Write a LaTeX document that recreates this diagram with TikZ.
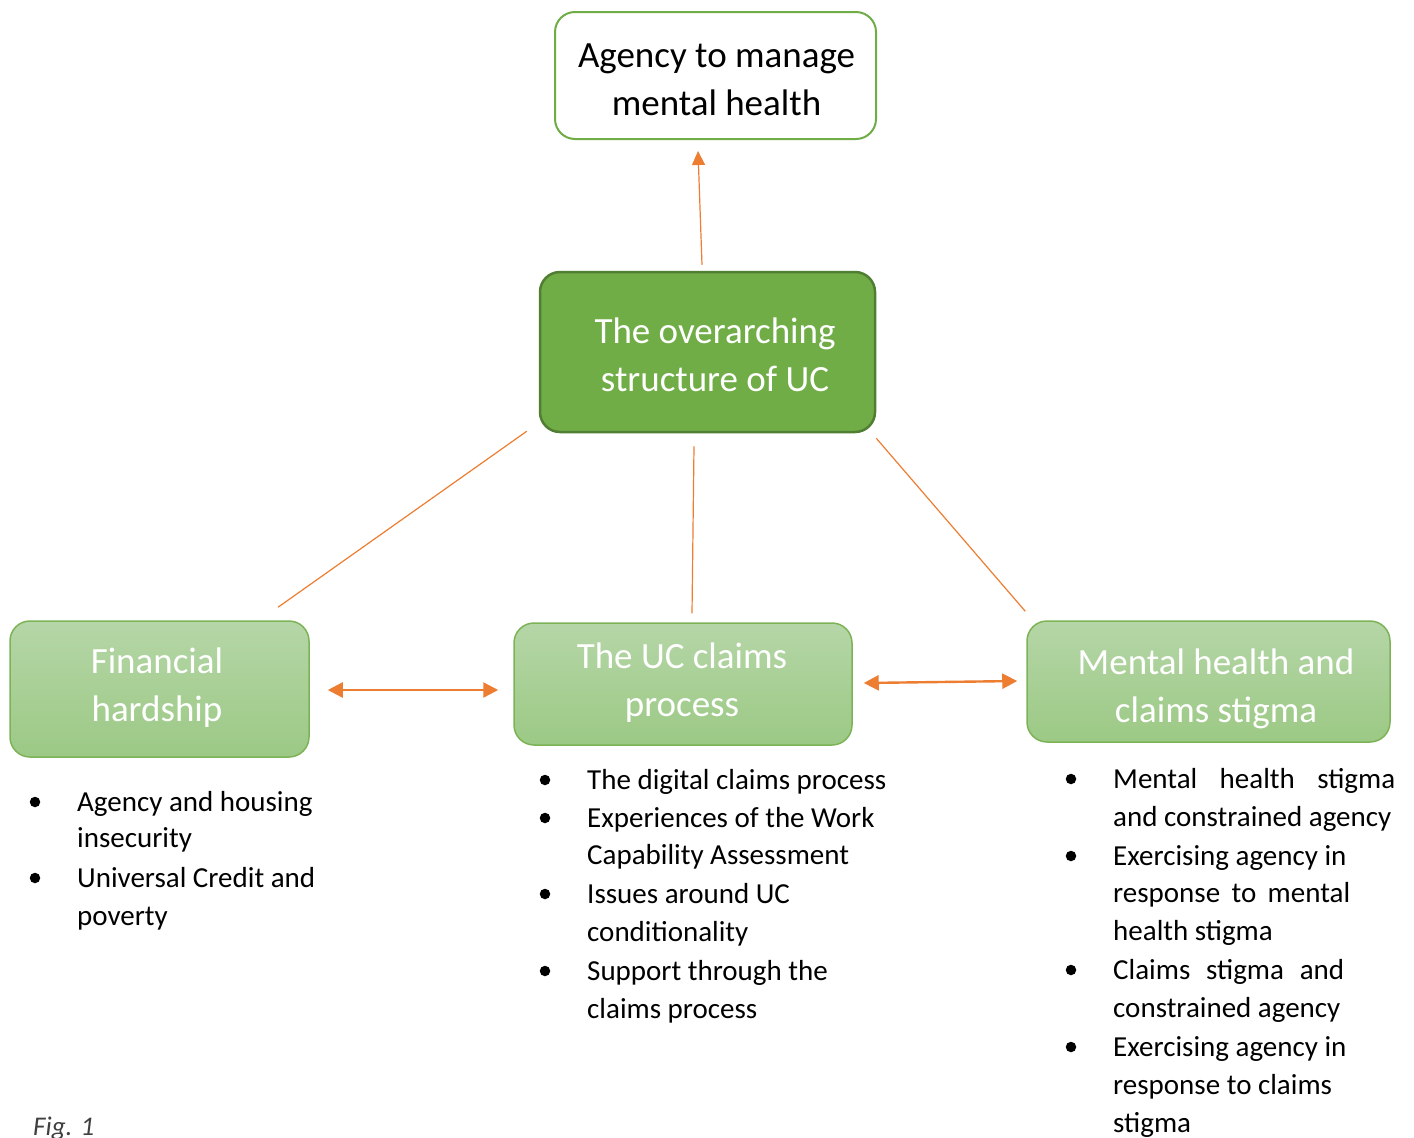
\documentclass[tikz,border=0pt]{standalone}
\usepackage{fontspec}
\setmainfont{Carlito}
\usetikzlibrary{arrows.meta}

\definecolor{ucgreen}{HTML}{70AD47}
\definecolor{ucdark}{HTML}{507E32}
\definecolor{lgtop}{HTML}{B5D6A7}
\definecolor{lgbot}{HTML}{9CC985}
\definecolor{lgedge}{HTML}{7DB356}
\definecolor{ucorange}{HTML}{ED7D31}

\begin{document}
\begin{tikzpicture}[x=1pt,y=-1pt,
  boxtext/.style={font=\fontsize{37}{48}\selectfont, align=center, inner sep=0pt},
  outcome/.style={draw=ucgreen, line width=2pt, fill=white, rounded corners=20pt},
  structure/.style={draw=ucdark, line width=2.5pt, fill=ucgreen, rounded corners=20pt},
  theme/.style={draw=lgedge, line width=1.5pt, top color=lgtop, bottom color=lgbot, rounded corners=20pt},
  link/.style={draw=ucorange, line width=1.2pt},
  uparrow/.style={link, -{Triangle[length=14pt,width=13pt]}},
  twoway/.style={draw=ucorange, line width=2.4pt, {Triangle[length=15pt,width=15pt]}-{Triangle[length=15pt,width=15pt]}},
  itemline/.style={font=\fontsize{29}{38}\selectfont, anchor=base west, inner sep=0pt},
  dot/.style={circle, fill=black, inner sep=0pt, minimum size=10.5pt}
]
\useasboundingbox (0,0) rectangle (1414,1138);

% main boxes
\node[outcome, minimum width=321pt, minimum height=127pt] (agency) at (715.5,75.5) {};
\node[structure, minimum width=335pt, minimum height=160pt] (overall) at (707.5,352) {};
\node[theme, minimum width=299pt, minimum height=136pt] (finance) at (159.5,689) {};
\node[theme, minimum width=338pt, minimum height=122pt] (claims) at (683,684) {};
\node[theme, minimum width=363pt, minimum height=121pt] (stigma) at (1208.5,681.5) {};

% box labels
\node[boxtext] (agency-t) at (716.5,79.5) {Agency to manage\\mental health};
\node[boxtext, text=white] (overall-t) at (715,355) {The overarching\\structure of UC};
\node[boxtext, text=white] (finance-t) at (157,688) {Financial\\hardship};
\node[boxtext, text=white] (claims-t) at (682,683) {The UC claims\\process};
\node[boxtext, text=white] (stigma-t) at (1216,689) {Mental health and\\claims stigma};

% connectors
\draw[uparrow] ([xshift=-5.5pt,yshift=6pt]overall.north) -- ([xshift=-17.5pt,yshift=-11pt]agency.south);
\draw[link] ([xshift=-12pt,yshift=2pt]overall.south west) -- ([xshift=118.5pt,yshift=13pt]finance.north);
\draw[link] ([xshift=-13.5pt,yshift=-13pt]overall.south) -- ([xshift=9pt,yshift=9pt]claims.north);
\draw[link] ([yshift=-5pt]overall.south east) -- ([xshift=-1pt,yshift=9pt]stigma.north west);
\draw[twoway] ([xshift=18pt,yshift=-1pt]finance.east) -- ([xshift=-15pt,yshift=-6pt]claims.west);
\draw[twoway] ([xshift=11pt,yshift=1pt]claims.east) -- ([xshift=-9pt,yshift=0.5pt]stigma.west);

% left list
\node[dot] (fb1) at (35,802) {};
\node[itemline] (f1a) at (77,811) {Agency and housing};
\node[itemline] (f1b) at (77,847) {insecurity};
\node[dot] (fb2) at (35,878) {};
\node[itemline] (f2a) at (77,887) {Universal Credit and};
\node[itemline] (f2b) at (77,925) {poverty};

% middle list
\node[dot] (cb1) at (545,780) {};
\node[itemline] (c1a) at (587,789) {The digital claims process};
\node[dot] (cb2) at (545,818) {};
\node[itemline] (c2a) at (587,827) {Experiences of the Work};
\node[itemline] (c2b) at (587,864) {Capability Assessment};
\node[dot] (cb3) at (545,894) {};
\node[itemline] (c3a) at (587,903) {Issues around UC};
\node[itemline] (c3b) at (587,941) {conditionality};
\node[dot] (cb4) at (545,971) {};
\node[itemline] (c4a) at (587,980) {Support through the};
\node[itemline] (c4b) at (587,1018) {claims process};

% right list
\node[dot] (sb1) at (1071,779) {};
\node[itemline] (s1a) at (1113,788) {\makebox[282pt][s]{Mental\hfill health\hfill stigma}};
\node[itemline] (s1b) at (1113,826) {and constrained agency};
\node[dot] (sb2) at (1071,856) {};
\node[itemline] (s2a) at (1113,865) {Exercising agency in};
\node[itemline] (s2b) at (1113,902) {\makebox[237pt][s]{response\hfill to\hfill mental}};
\node[itemline] (s2c) at (1113,940) {health stigma};
\node[dot] (sb3) at (1071,970) {};
\node[itemline] (s3a) at (1113,979) {\makebox[231pt][s]{Claims\hfill stigma\hfill and}};
\node[itemline] (s3b) at (1113,1017) {constrained agency};
\node[dot] (sb4) at (1071,1047) {};
\node[itemline] (s4a) at (1113,1056) {Exercising agency in};
\node[itemline] (s4b) at (1113,1094) {response to claims};
\node[itemline] (s4c) at (1113,1132) {stigma};

% caption
\node[itemline, font=\fontsize{27}{32}\selectfont\itshape, text=black!75] (caption) at (33,1135) {Fig. 1};
\end{tikzpicture}
\end{document}
